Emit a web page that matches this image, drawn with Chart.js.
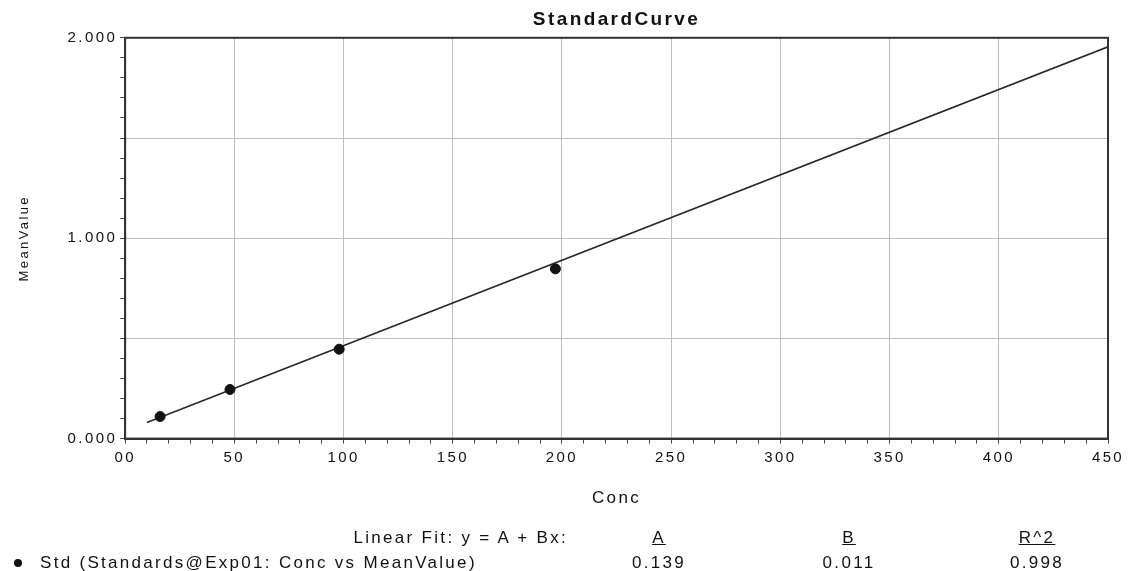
<!DOCTYPE html>
<html>
<head>
<meta charset="utf-8">
<script src="https://cdn.jsdelivr.net/npm/chart.js@4.4.1/dist/chart.umd.min.js"></script>
<style>
  body { margin: 0; background: #fff; font-family: "Liberation Sans", Arial, sans-serif; color: #111; }
  #wrap { position: relative; width: 1130px; height: 571px; }
  canvas { position: absolute; left: 0; top: 0; }
  .t { position: absolute; font-size: 17px; letter-spacing: 2.3px; white-space: nowrap; line-height: 18px; }
  .c { transform: translateX(-50%); text-align: center; }
  .u { text-decoration: underline; }
  #dot { position: absolute; left: 14px; top: 559px; width: 8px; height: 8px; border-radius: 50%; background: #111; }
</style>
</head>
<body>
<div id="wrap">
  <canvas id="curve" width="1130" height="571"></canvas>
  <div class="t" id="fitLabel" style="right:562px; top:529px;"></div>
  <div id="dot"></div>
  <div class="t" id="seriesName" style="left:40px; top:554px;"></div>
</div>
<script>
// standards
const concValues = [16, 48, 98, 197];
const meanValues = [0.110, 0.245, 0.446, 0.847];

// fitted line end points as drawn
const fitConc = [10, 450];
const fitMean = [0.08, 1.955];

const xTickLabels = { 0: '00', 50: '50', 100: '100', 150: '150', 200: '200', 250: '250', 300: '300', 350: '350', 400: '400', 450: '450' };
const yTickLabels = { 0: '0.000', 10: '1.000', 20: '2.000' };

const fitHeaders = ['A', 'B', 'R^2'];
const fitValues = ['0.139', '0.011', '0.998'];
const fitColumnsX = [659, 849, 1037];

document.getElementById('fitLabel').textContent = 'Linear Fit: y = A + Bx:';
document.getElementById('seriesName').textContent = 'Std (Standards@Exp01: Conc vs MeanValue)';
const wrap = document.getElementById('wrap');
fitHeaders.forEach((h, i) => {
  const head = document.createElement('div');
  head.className = 't c u';
  head.style.left = fitColumnsX[i] + 'px';
  head.style.top = '529px';
  head.textContent = h;
  wrap.appendChild(head);
  const val = document.createElement('div');
  val.className = 't c';
  val.style.left = fitColumnsX[i] + 'px';
  val.style.top = '554px';
  val.textContent = fitValues[i];
  wrap.appendChild(val);
});

// the scanned original is wide, so space the canvas text out a bit
const spacing = {
  id: 'spacing',
  beforeUpdate(chart) { chart.ctx.letterSpacing = '2.4px'; },
  beforeDraw(chart) { chart.ctx.letterSpacing = '2.4px'; }
};

// box round the plot area
const frame = {
  id: 'frame',
  afterDatasetsDraw(chart) {
    const a = chart.chartArea, ctx = chart.ctx;
    ctx.save();
    ctx.strokeStyle = '#333';
    ctx.lineWidth = 2;
    ctx.strokeRect(a.left, a.top, a.right - a.left, a.bottom - a.top);
    ctx.restore();
  }
};

const family = '"Liberation Sans", Arial, sans-serif';

new Chart(document.getElementById('curve'), {
  type: 'scatter',
  data: {
    datasets: [
      {
        label: 'fit',
        data: fitConc.map((x, i) => ({ x, y: fitMean[i] })),
        showLine: true,
        borderColor: '#2a2a2a',
        borderWidth: 1.6,
        pointRadius: 0,
        order: 2
      },
      {
        label: 'Std',
        data: concValues.map((x, i) => ({ x, y: meanValues[i] })),
        backgroundColor: '#111',
        borderColor: '#111',
        pointRadius: 5,
        order: 1
      }
    ]
  },
  options: {
    responsive: false,
    animation: false,
    layout: { padding: { top: 0, right: 22, bottom: 58, left: 13 } },
    plugins: {
      legend: { display: false },
      tooltip: { enabled: false },
      title: {
        display: true,
        fullSize: false,
        text: 'StandardCurve',
        color: '#111',
        font: { family, size: 19, weight: 'bold' },
        padding: { top: 8, bottom: 7 }
      }
    },
    scales: {
      x: {
        type: 'linear',
        min: 0,
        max: 450,
        ticks: {
          stepSize: 10,
          autoSkip: false,
          maxRotation: 0,
          color: '#111',
          font: { family, size: 15 },
          padding: 5,
          callback: v => xTickLabels[v] !== undefined ? xTickLabels[v] : ''
        },
        grid: {
          color: c => c.tick && c.tick.value % 50 === 0 ? '#bdbdbd' : 'rgba(0,0,0,0)',
          tickColor: '#444',
          tickLength: 5
        },
        border: { color: '#333', width: 2 },
        title: {
          display: true,
          text: 'Conc',
          color: '#111',
          font: { family, size: 17 },
          padding: { top: 17 }
        }
      },
      y: {
        type: 'linear',
        min: 0,
        max: 2,
        ticks: {
          stepSize: 0.1,
          autoSkip: false,
          color: '#111',
          font: { family, size: 15 },
          padding: 3,
          callback: v => {
            const k = Math.round(v * 10);
            return yTickLabels[k] !== undefined ? yTickLabels[k] : '';
          }
        },
        grid: {
          color: c => c.tick && Math.round(c.tick.value * 10) % 5 === 0 ? '#bdbdbd' : 'rgba(0,0,0,0)',
          tickColor: '#444',
          tickLength: 5
        },
        border: { color: '#333', width: 2 },
        title: {
          display: true,
          text: 'MeanValue',
          color: '#111',
          font: { family, size: 13 },
          padding: { top: 4, bottom: 32 }
        }
      }
    }
  },
  plugins: [spacing, frame]
});
</script>
</body>
</html>
